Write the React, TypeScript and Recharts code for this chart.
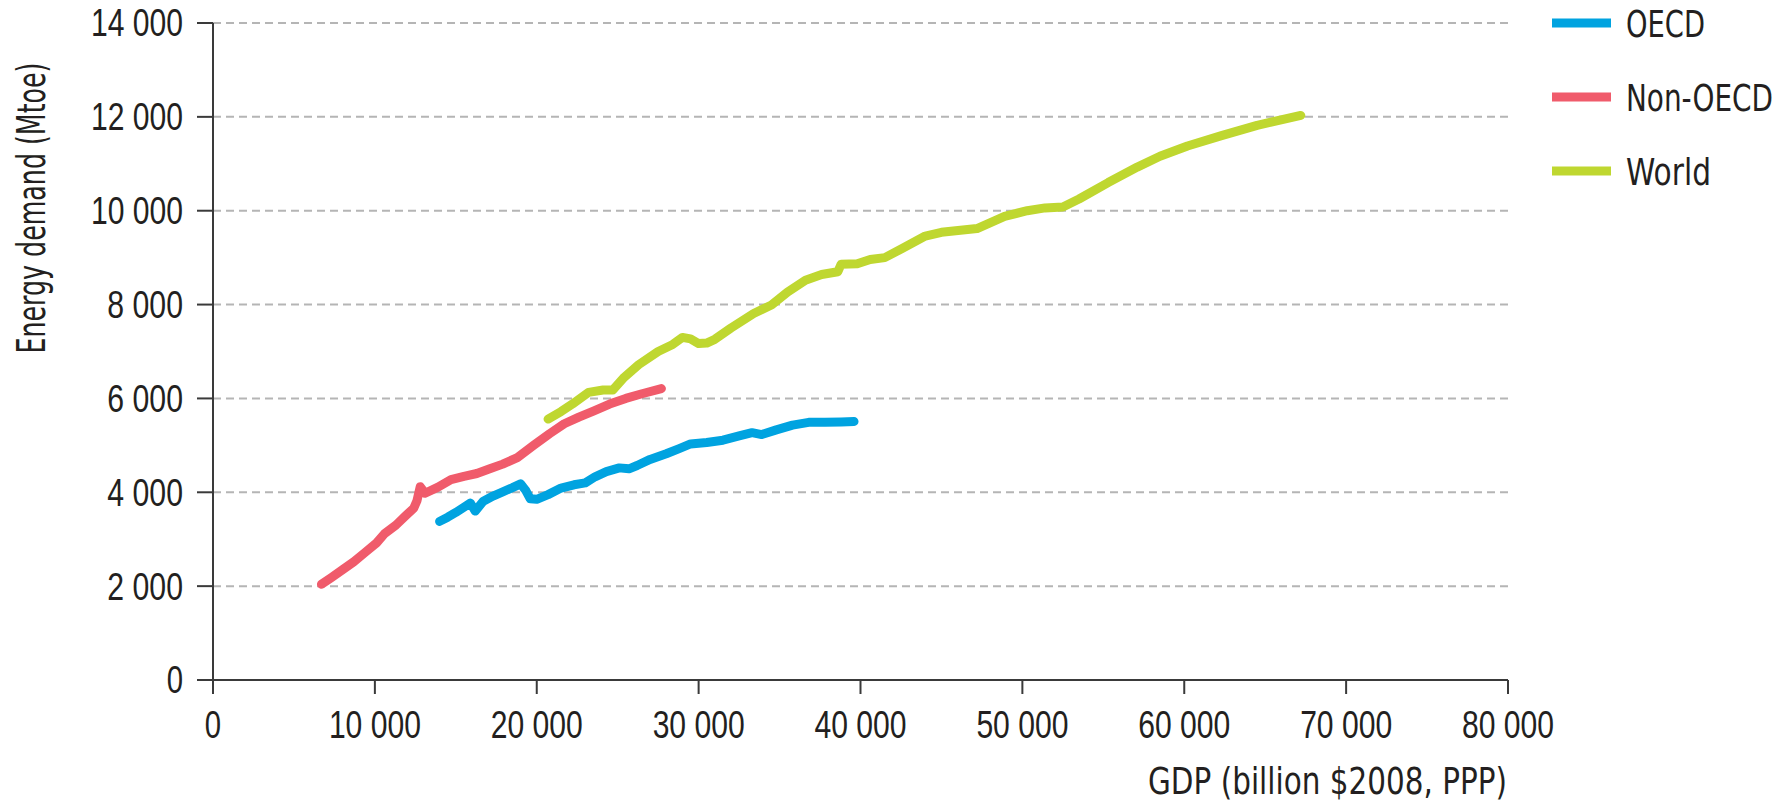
import { LineChart, Line, XAxis, YAxis, CartesianGrid, Legend } from 'recharts'

// GDP (billion $2008, PPP) and energy demand (Mtoe)
const oecdGdp = [14000, 14500, 15000, 15500, 15900, 16200, 16700, 17300, 17900, 18500, 19000, 19300, 19600, 20000, 20700, 21500, 22300, 23000, 23600, 24300, 25100, 25700, 26200, 27000, 28000, 28800, 29500, 30500, 31500, 32500, 33300, 33900, 34800, 35800, 36800, 37800, 38800, 39600]
const oecdDemand = [3380, 3470, 3570, 3680, 3770, 3600, 3810, 3920, 4010, 4100, 4180, 4050, 3860, 3850, 3950, 4090, 4160, 4200, 4330, 4440, 4520, 4500, 4570, 4700, 4820, 4930, 5030, 5060, 5110, 5200, 5270, 5230, 5330, 5430, 5490, 5490, 5500, 5510]

const nonOecdGdp = [6700, 7300, 8000, 8700, 9400, 10100, 10600, 11300, 11900, 12400, 12600, 12800, 13100, 13900, 14700, 15500, 16300, 17100, 17900, 18800, 19800, 20800, 21700, 22600, 23500, 24500, 25500, 26500, 27700]
const nonOecdDemand = [2040, 2180, 2350, 2520, 2720, 2920, 3120, 3300, 3500, 3660, 3820, 4120, 3980, 4110, 4270, 4340, 4400, 4500, 4600, 4740, 5000, 5250, 5460, 5600, 5730, 5880, 6000, 6100, 6210]

const worldGdp = [20700, 21500, 22200, 23200, 24100, 24700, 25400, 26300, 27500, 28400, 29000, 29500, 30000, 30500, 31000, 32000, 33400, 34500, 35500, 36600, 37600, 38600, 38800, 39800, 40600, 41500, 42600, 44000, 45000, 47200, 48900, 50300, 51400, 52500, 53500, 55300, 57100, 58500, 60200, 62300, 64500, 67200]
const worldDemand = [5560, 5720, 5880, 6130, 6180, 6180, 6450, 6720, 7000, 7150, 7300, 7270, 7170, 7180, 7260, 7500, 7810, 7990, 8270, 8520, 8640, 8700, 8860, 8870, 8960, 9000, 9200, 9460, 9540, 9620, 9880, 10000, 10060, 10080, 10250, 10600, 10930, 11160, 11380, 11600, 11820, 12030]

const seriesNames = ['OECD', 'Non-OECD', 'World']
const xTicks = [0, 10000, 20000, 30000, 40000, 50000, 60000, 70000, 80000]
const yTicks = [0, 2000, 4000, 6000, 8000, 10000, 12000, 14000]

const toPoints = (gdp: number[], demand: number[]) => gdp.map((g, i) => ({ gdp: g, demand: demand[i] }))

const NUM_FONT = '"Liberation Sans Narrow", "Liberation Sans", Arial, sans-serif'
const TXT_FONT = '"DejaVu Sans", sans-serif'
const INK = '#231f20'

const fmt = (v: number) => String(v).replace(/\B(?=(\d{3})+(?!\d))/g, ' ')
// condensed look of the original numbers
const numWidth = (s: string) => s.replace(/ /g, '').length * 16.3 + (s.split(' ').length - 1) * 10.5

// DejaVu squeezed horizontally to get the narrow humanist look of the original
function NarrowText({ x, y, width, sx, size, anchor = 'start', rotate = 0, children }: any) {
  return (
    <text
      transform={`translate(${x} ${y}) rotate(${rotate}) scale(${sx} 1)`}
      textAnchor={anchor}
      fontSize={size}
      fontFamily={TXT_FONT}
      fill={INK}
      textLength={width / sx}
      lengthAdjust="spacingAndGlyphs"
    >
      {children}
    </text>
  )
}

function YTick({ x, y, payload }: any) {
  const s = fmt(payload.value)
  return (
    <text x={x} y={y} dy="0.355em" textAnchor="end" fontSize={38} fontFamily={NUM_FONT} fill={INK}
      textLength={numWidth(s)} lengthAdjust="spacingAndGlyphs">{s}</text>
  )
}

function XTick({ x, y, payload }: any) {
  const s = fmt(payload.value)
  return (
    <text x={x} y={y} dy={42} textAnchor="middle" fontSize={38} fontFamily={NUM_FONT} fill={INK}
      textLength={numWidth(s)} lengthAdjust="spacingAndGlyphs">{s}</text>
  )
}

const legendWidths: Record<string, number> = { OECD: 79, 'Non-OECD': 147, World: 85 }
const legendScale: Record<string, number> = { OECD: 0.72, 'Non-OECD': 0.74, World: 0.77 }

function LegendContent({ payload }: any) {
  const items = seriesNames.map((n) => (payload || []).find((p: any) => p.value === n)).filter(Boolean)
  return (
    <svg width={238} height={200}>
      {items.map((p: any, i: number) => {
        const cy = 23 + i * 74
        return (
          <g key={p.value}>
            <line x1={0} x2={59} y1={cy} y2={cy} stroke={p.color} strokeWidth={9} />
            <NarrowText x={74} y={cy + 14} width={legendWidths[p.value]} sx={legendScale[p.value]} size={38}>
              {p.value}
            </NarrowText>
          </g>
        )
      })}
    </svg>
  )
}

export default function App() {
  return (
    <div style={{ position: 'absolute', left: 0, top: 0, width: 1790, height: 804, background: '#fff' }}>
      <LineChart width={1790} height={804} margin={{ top: 23, right: 282, bottom: 64, left: 63 }}>
        <CartesianGrid vertical={false} stroke="#b5b5b5" strokeWidth={2} strokeDasharray="8 5" />
        <XAxis
          dataKey="gdp"
          type="number"
          domain={[0, 80000]}
          ticks={xTicks}
          height={60}
          interval={0}
          tickSize={14}
          tick={<XTick />}
          axisLine={{ stroke: '#3a3a3a', strokeWidth: 2 }}
          tickLine={{ stroke: '#3a3a3a', strokeWidth: 2 }}
          label={{
            content: () => (
              <NarrowText x={1507} y={794} width={359} sx={0.775} size={38} anchor="end">
                GDP (billion $2008, PPP)
              </NarrowText>
            ),
          }}
        />
        <YAxis
          dataKey="demand"
          type="number"
          domain={[0, 14000]}
          ticks={yTicks}
          width={150}
          interval={0}
          tickSize={16}
          tickMargin={14}
          tick={<YTick />}
          axisLine={{ stroke: '#3a3a3a', strokeWidth: 2 }}
          tickLine={{ stroke: '#3a3a3a', strokeWidth: 2 }}
          label={{
            content: () => (
              <NarrowText x={45} y={208} width={291} sx={0.65} size={39} anchor="middle" rotate={-90}>
                Energy demand (Mtoe)
              </NarrowText>
            ),
          }}
        />
        <Legend
          layout="horizontal"
          verticalAlign="middle"
          align="center"
          content={<LegendContent />}
          wrapperStyle={{ left: 1552, top: 0, width: 238, height: 200 }}
        />
        <Line name="OECD" data={toPoints(oecdGdp, oecdDemand)} dataKey="demand" type="linear" stroke="#00a3e0"
          strokeWidth={9} strokeLinecap="round" strokeLinejoin="round" dot={false} activeDot={false} isAnimationActive={false} />
        <Line name="Non-OECD" data={toPoints(nonOecdGdp, nonOecdDemand)} dataKey="demand" type="linear" stroke="#f05b6b"
          strokeWidth={9} strokeLinecap="round" strokeLinejoin="round" dot={false} activeDot={false} isAnimationActive={false} />
        <Line name="World" data={toPoints(worldGdp, worldDemand)} dataKey="demand" type="linear" stroke="#bfd730"
          strokeWidth={9} strokeLinecap="round" strokeLinejoin="round" dot={false} activeDot={false} isAnimationActive={false} />
      </LineChart>
    </div>
  )
}
